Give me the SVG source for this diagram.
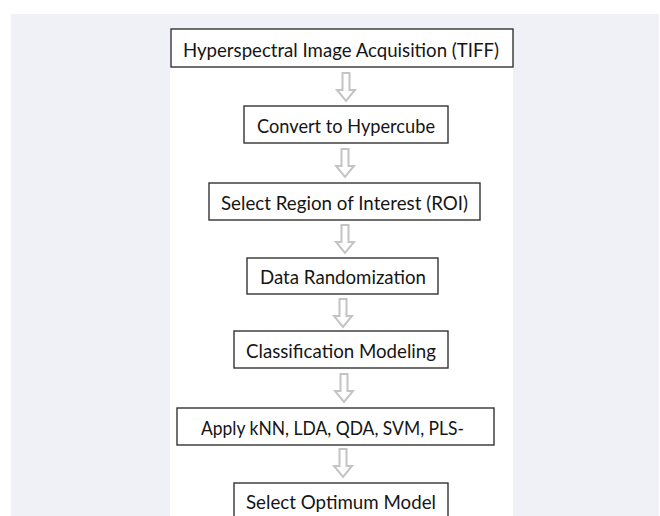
<svg xmlns="http://www.w3.org/2000/svg" width="660" height="516" viewBox="0 0 660 516">
  <defs>
    <style>
      .box { fill: #ffffff; stroke: #333333; stroke-width: 1.4; }
      .lbl { font-family: Lato, "Open Sans", "Liberation Sans", sans-serif; font-size: 19px; fill: #151515; text-anchor: middle; }
      .arrow { fill: #ffffff; stroke: #c4c4c4; stroke-width: 2; stroke-linejoin: miter; }
    </style>
    <!-- hollow down arrow, origin at top of shaft centre, 28 tall -->
    <polygon id="downArrow" class="arrow" points="-3.5,0 3.5,0 3.5,17 9,17 0,28 -9,17 -3.5,17"/>
  </defs>

  <!-- page background -->
  <rect x="0" y="0" width="660" height="516" fill="#ffffff"/>
  <rect x="11" y="14" width="648" height="502" fill="#f0f1f6"/>
  <rect x="170" y="29" width="343" height="487" fill="#ffffff"/>

  <!-- connectors -->
  <g id="connectors">
    <use href="#downArrow" x="346" y="73"/>
    <use href="#downArrow" x="345" y="149"/>
    <use href="#downArrow" x="345" y="225"/>
    <use href="#downArrow" x="343" y="299"/>
    <use href="#downArrow" x="344" y="374"/>
    <use href="#downArrow" x="343" y="449"/>
  </g>

  <g id="acquisition">
    <rect class="box" x="171" y="29" width="342" height="38"/>
    <text class="lbl" x="341" y="56.5" textLength="316" lengthAdjust="spacingAndGlyphs">Hyperspectral Image Acquisition (TIFF)</text>
  </g>

  <g id="hypercube">
    <rect class="box" x="244" y="106" width="204" height="37"/>
    <text class="lbl" x="346" y="132.5" textLength="178" lengthAdjust="spacingAndGlyphs">Convert to Hypercube</text>
  </g>

  <g id="roi">
    <rect class="box" x="209" y="183" width="271" height="37"/>
    <text class="lbl" x="344.5" y="210" textLength="247" lengthAdjust="spacingAndGlyphs">Select Region of Interest (ROI)</text>
  </g>

  <g id="randomization">
    <rect class="box" x="247" y="258" width="191" height="36"/>
    <text class="lbl" x="343" y="283.5" textLength="166" lengthAdjust="spacingAndGlyphs">Data Randomization</text>
  </g>

  <g id="classification">
    <rect class="box" x="234" y="331" width="214" height="37"/>
    <text class="lbl" x="341" y="357.5" textLength="190" lengthAdjust="spacingAndGlyphs">Classification Modeling</text>
  </g>

  <g id="algorithms">
    <rect class="box" x="177" y="408" width="317" height="37"/>
    <text class="lbl" x="332.5" y="434.5" textLength="263" lengthAdjust="spacingAndGlyphs">Apply kNN, LDA, QDA, SVM, PLS-</text>
  </g>

  <g id="optimum">
    <rect class="box" x="234" y="483" width="214" height="40"/>
    <text class="lbl" x="341" y="508.5" textLength="190" lengthAdjust="spacingAndGlyphs">Select Optimum Model</text>
  </g>
</svg>
